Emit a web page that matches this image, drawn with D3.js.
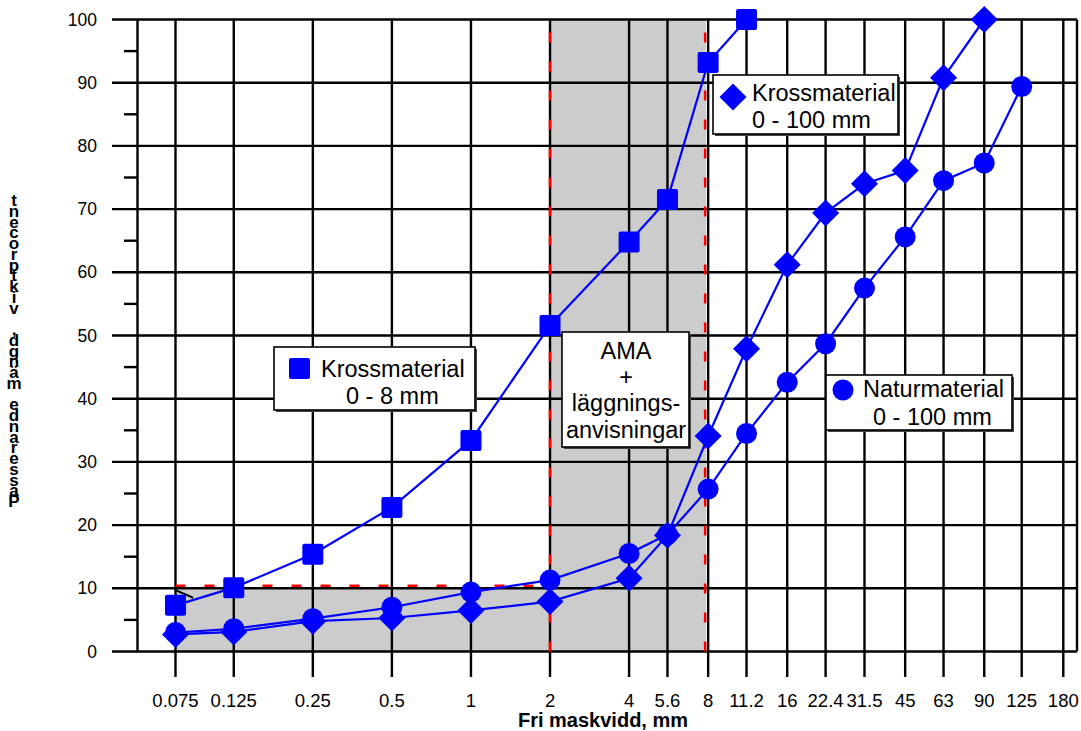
<!DOCTYPE html>
<html>
<head>
<meta charset="utf-8">
<script src="https://cdn.jsdelivr.net/npm/d3@7"></script>
<style>
  body { margin: 0; background: #fff; }
  svg { display: block; font-family: "Liberation Sans", Arial, sans-serif; }
</style>
</head>
<body>
<div id="chart-area"></div>
<script>
// sieve sizes (mm) and passing percentages
const sieves = [0.075, 0.125, 0.25, 0.5, 1, 2, 4, 5.6, 8, 11.2, 16, 22.4, 31.5, 45, 63, 90, 125, 180];
const sieveLabels = ["0.075", "0.125", "0.25", "0.5", "1", "2", "4", "5.6", "8", "11.2", "16", "22.4", "31.5", "45", "63", "90", "125", "180"];
const yTicks = [0, 10, 20, 30, 40, 50, 60, 70, 80, 90, 100];
const yMinor = [5, 15, 25, 35, 45, 55, 65, 75, 85, 95];

const kross08Sizes = [0.075, 0.125, 0.25, 0.5, 1, 2, 4, 5.6, 8, 11.2];
const kross08 = [7.3, 10.1, 15.4, 22.8, 33.4, 51.6, 64.8, 71.5, 93.2, 100];

const kross100Sizes = [0.075, 0.125, 0.25, 0.5, 1, 2, 4, 5.6, 8, 11.2, 16, 22.4, 31.5, 45, 63, 90];
const kross100 = [2.7, 3.1, 4.8, 5.3, 6.5, 7.9, 11.6, 18.4, 34.1, 47.9, 61.2, 69.4, 74.0, 76.1, 90.8, 100];

const naturSizes = [0.075, 0.125, 0.25, 0.5, 1, 2, 4, 5.6, 8, 11.2, 16, 22.4, 31.5, 45, 63, 90, 125];
const natur = [3.0, 3.6, 5.2, 7.0, 9.4, 11.3, 15.5, 18.5, 25.7, 34.5, 42.6, 48.7, 57.5, 65.6, 74.5, 77.3, 89.4];

// AMA zone: fines limit and sieve interval
const amaFinesLimit = 10.4;
const amaZone = [2, 8];
const leader = [[0.075, 9.7], [0.0875, 8.5]];

const yTitle = "Passerande mängd, viktprocent";
const xTitle = "Fri maskvidd, mm";

const W = 1081, H = 731;
const plotLeft = 137.5, plotRight = 1077, plotTop = 19.5, plotBottom = 651.5;

const svg = d3.select("#chart-area").append("svg")
    .attr("width", W)
    .attr("height", H);

const x = d3.scaleLog().domain([0.075, 180]).range([175.5, 1063.3]);
const y = d3.scaleLinear().domain([0, 100]).range([plotBottom, plotTop]);

// Grey zone
svg.append("rect")
    .attr("x", x(amaZone[0]))
    .attr("y", y(100))
    .attr("width", x(amaZone[1]) - x(amaZone[0]) - 2)
    .attr("height", y(0) - y(100))
    .attr("fill", "#cccccc");
svg.append("rect")
    .attr("x", x(0.075))
    .attr("y", y(10))
    .attr("width", x(amaZone[0]) - x(0.075))
    .attr("height", y(0) - y(10))
    .attr("fill", "#cccccc");

// Grid
const grid = svg.append("g").attr("stroke", "#000").attr("stroke-width", 2.4);
grid.selectAll(".hl").data(yTicks).enter().append("line")
    .attr("x1", 112).attr("x2", plotRight)
    .attr("y1", d => y(d)).attr("y2", d => y(d));
grid.selectAll(".ml").data(yMinor).enter().append("line")
    .attr("x1", 124).attr("x2", plotLeft)
    .attr("y1", d => y(d)).attr("y2", d => y(d));
grid.selectAll(".vl").data(sieves).enter().append("line")
    .attr("x1", d => x(d)).attr("x2", d => x(d))
    .attr("y1", plotTop).attr("y2", 677);
grid.append("line")
    .attr("x1", plotLeft).attr("x2", plotLeft)
    .attr("y1", plotTop).attr("y2", plotBottom);
grid.append("line")
    .attr("x1", plotRight).attr("x2", plotRight)
    .attr("y1", plotTop).attr("y2", plotBottom);

// Red dashed limits
const red = svg.append("g")
    .attr("stroke", "#ff0000")
    .attr("stroke-width", 2.6)
    .attr("stroke-dasharray", "10,19");
red.append("line")
    .attr("x1", x(0.075)).attr("x2", x(amaZone[0]))
    .attr("y1", y(amaFinesLimit)).attr("y2", y(amaFinesLimit));
red.append("line")
    .attr("x1", x(amaZone[0])).attr("x2", x(amaZone[0]))
    .attr("y1", y(0)).attr("y2", y(100));
red.append("line")
    .attr("x1", x(amaZone[1]) - 3).attr("x2", x(amaZone[1]) - 3)
    .attr("y1", y(0)).attr("y2", y(100));

svg.append("line")
    .attr("x1", x(leader[0][0])).attr("y1", y(leader[0][1]))
    .attr("x2", x(leader[1][0])).attr("y2", y(leader[1][1]))
    .attr("stroke", "#000").attr("stroke-width", 2);

// Tick labels
svg.selectAll(".yl").data(yTicks).enter().append("text")
    .attr("x", 97).attr("y", d => y(d) + 6)
    .attr("text-anchor", "end")
    .attr("font-size", 17.5)
    .text(d => d);
svg.selectAll(".xl").data(sieves).enter().append("text")
    .attr("x", d => x(d)).attr("y", 707)
    .attr("text-anchor", "middle")
    .attr("font-size", 18.5)
    .text((d, i) => sieveLabels[i]);

svg.append("text")
    .attr("x", 603).attr("y", 727)
    .attr("text-anchor", "middle")
    .attr("font-size", 20)
    .attr("font-weight", "bold")
    .text(xTitle);

// stacked y title, bottom to top
svg.selectAll(".yt").data(yTitle.split("")).enter().append("text")
    .attr("x", 14).attr("y", (d, i) => 507 - i * 10.75)
    .attr("text-anchor", "middle")
    .attr("font-size", 17)
    .attr("font-weight", "bold")
    .text(d => d);

// Series
const blue = "#0000ff";
const line = d3.line().x(d => x(d[0])).y(d => y(d[1]));
const zip = (s, v) => s.map((d, i) => [d, v[i]]);
const dK08 = zip(kross08Sizes, kross08);
const dK100 = zip(kross100Sizes, kross100);
const dNat = zip(naturSizes, natur);

[dNat, dK100, dK08].forEach(d => {
    svg.append("path")
        .attr("d", line(d))
        .attr("fill", "none")
        .attr("stroke", blue)
        .attr("stroke-width", 2.2);
});

const diamond = s => `M0,${-s}L${s},0L0,${s}L${-s},0Z`;

svg.selectAll(".nat").data(dNat).enter().append("circle")
    .attr("cx", d => x(d[0])).attr("cy", d => y(d[1]))
    .attr("r", 10.5).attr("fill", blue);
svg.selectAll(".k100").data(dK100).enter().append("path")
    .attr("transform", d => "translate(" + x(d[0]) + "," + y(d[1]) + ")")
    .attr("d", diamond(13.5)).attr("fill", blue);
svg.selectAll(".k08").data(dK08).enter().append("rect")
    .attr("x", d => x(d[0]) - 10.5).attr("y", d => y(d[1]) - 10.5)
    .attr("width", 21).attr("height", 21).attr("rx", 2)
    .attr("fill", blue);

// Legend boxes
function box(bx, by, bw, bh) {
    svg.append("rect")
        .attr("x", bx + 2).attr("y", by + 2)
        .attr("width", bw).attr("height", bh)
        .attr("fill", "#444");
    svg.append("rect")
        .attr("x", bx).attr("y", by)
        .attr("width", bw).attr("height", bh)
        .attr("fill", "#fff")
        .attr("stroke", "#000")
        .attr("stroke-width", 1.6);
}
function label(tx, ty, str, anchor) {
    svg.append("text")
        .attr("x", tx).attr("y", ty)
        .attr("font-size", 23.5)
        .attr("text-anchor", anchor || "start")
        .text(str);
}

box(274, 347, 201, 63);
svg.append("rect").attr("x", 289).attr("y", 358).attr("width", 21).attr("height", 21)
    .attr("rx", 2).attr("fill", blue);
label(321, 377, "Krossmaterial");
label(346, 404, "0 - 8 mm");

box(562, 332, 127, 115);
label(626, 359, "AMA", "middle");
label(626, 385, "+", "middle");
label(626, 411, "läggnings-", "middle");
label(626, 438, "anvisningar", "middle");

box(713, 75, 185, 59);
svg.append("path").attr("transform", "translate(733,97)")
    .attr("d", diamond(13.5)).attr("fill", blue);
label(752, 101, "Krossmaterial");
label(752, 128, "0 - 100 mm");

box(826, 375, 186, 55);
svg.append("circle").attr("cx", 843).attr("cy", 390).attr("r", 10.5).attr("fill", blue);
label(863, 397, "Naturmaterial");
label(873, 425, "0 - 100 mm");
</script>
</body>
</html>
